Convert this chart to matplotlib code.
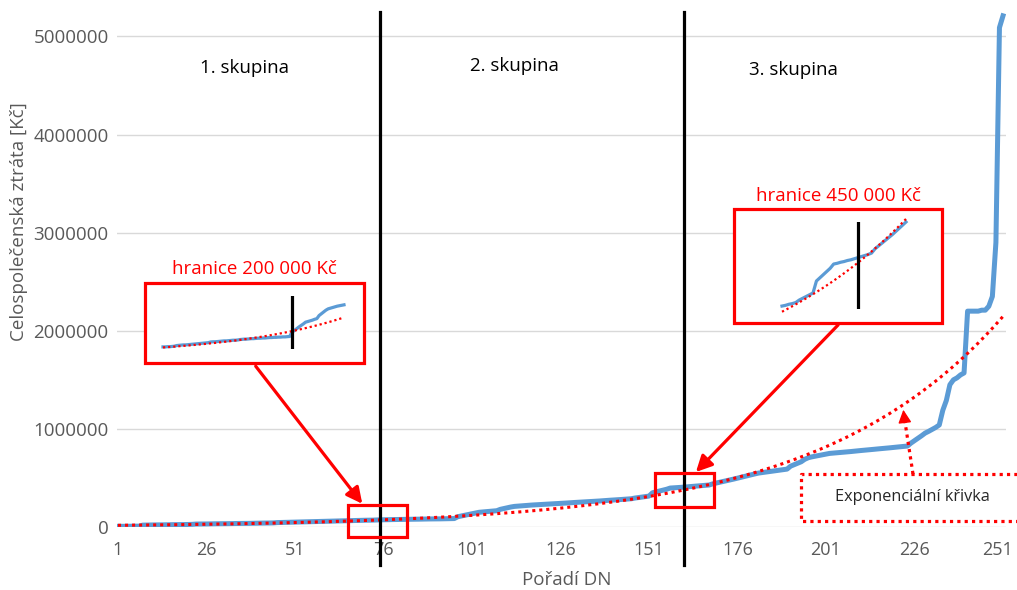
import numpy as np
import matplotlib
matplotlib.use("Agg")
import matplotlib.pyplot as plt
from matplotlib.patches import Rectangle, FancyArrowPatch
from matplotlib.lines import Line2D
from matplotlib.transforms import blended_transform_factory, ScaledTranslation

# ---------------- data ----------------
# loss per DN (sorted), in thousands of Kč, DN order 1..251
loss_thousands = (
    [7, 7, 8, 8, 8, 9, 9]
    + [19, 20, 20, 21, 21, 22, 22, 23, 23, 24, 24, 25, 25, 26, 27]
    + [30, 30, 31, 31, 32, 32, 33, 33, 34, 34, 35, 35, 36, 36, 37, 37, 38, 39, 39, 40, 40, 41, 42]
    + [45, 46, 47, 48, 48, 49, 50, 51, 52, 53, 54, 55, 56, 57, 58]
    + [61, 62, 62, 63, 64, 65, 66, 66, 67, 68, 69, 69, 70]
    + [72, 73, 74, 74, 75, 76, 76, 77, 78, 78, 79, 79, 80, 81, 81, 82, 82, 83, 83, 84, 84, 85, 86]
    + [105]
    + [112, 120, 128, 135, 142]
    + [150, 153, 156, 159, 163, 166]
    + [180, 188, 196, 204]
    + [210, 213, 216, 219, 222, 224]
    + [226, 228, 230, 232, 234, 236, 238, 240, 243, 245, 248]
    + [250, 252, 254, 256, 258, 260, 263, 265]
    + [268, 270, 273, 275, 278, 280, 283, 285, 288]
    + [295, 300, 305, 310, 315]
    + [349, 358, 367, 376, 385]
    + [397, 399, 402, 404, 407, 409, 412, 415, 418, 421, 424, 428]
    + [440, 448, 456, 464, 472]
    + [480, 489, 498, 507, 516, 525, 534, 542, 550]
    + [555, 560, 565, 570, 575, 580, 585, 590]
    + [620, 635, 650, 665, 690, 706]
    + [715, 722, 729, 736, 743]
    + [750, 753, 756, 760, 763, 766, 769, 773, 776, 780, 783, 787, 790, 794]
    + [797, 800, 804, 807, 811, 814, 818, 821, 825]
    + [855, 880, 905, 930]
    + [957, 975, 995, 1015, 1040]
    + [1190, 1290, 1450]
    + [1500, 1520, 1550, 1570]
    + [2200, 2200, 2200, 2200, 2210, 2210]
    + [2250, 2350, 2900, 5090, 5210]
)
assert len(loss_thousands) == 251

x_ticks = [1, 26, 51, 76, 101, 126, 151, 176, 201, 226, 251]
y_ticks = [0, 1000000, 2000000, 3000000, 4000000, 5000000]
group_labels = ["1. skupina", "2. skupina", "3. skupina"]
group_bounds = [75, 161]
limit_labels = ["hranice 200 000 Kč", "hranice 450 000 Kč"]
trend_label = "Exponenciální křivka"
x_label = "Pořadí DN"
y_label = "Celospolečenská ztráta [Kč]"
# exponential trendline  y = a * exp(b * n)  (coefficients)
trend_a = 16900
trend_b = 0.0193
inset1_range = (40, 120)
inset1_mark = 97
inset2_range = (142, 178)
inset2_mark = 164

# ---------------- figure ----------------
W, H = 1017, 590
plt.rcParams['font.family'] = ['Open Sans', 'DejaVu Sans']
fig = plt.figure(figsize=(W / 100, H / 100), dpi=100)

def fx(p):
    return p / W

def fy(p):
    return 1 - p / H

BLUE = '#5B9BD5'
RED = '#FF0000'
GREY = '#595959'
DOT = (0, (1, 1.3))

n = np.arange(1, len(loss_thousands) + 1)
loss = np.array(loss_thousands, dtype=float) * 1000
trend = trend_a * np.exp(trend_b * n)

ax = fig.add_axes([fx(117), fy(527), fx(1006) - fx(117), fy(7) - fy(527)])
ax.plot(n, loss, color=BLUE, lw=3.6, solid_joinstyle='round', zorder=3)
ax.plot(n, trend, color=RED, lw=2.2, linestyle=DOT, zorder=4)
ax.set_xlim(0.7175, 251.85)
ax.set_ylim(0, 5.3e6)
ax.set_xticks(x_ticks)
ax.set_xticklabels([str(t) for t in x_ticks])
ax.set_yticks(y_ticks)
ax.set_yticklabels([str(t) for t in y_ticks])
ax.tick_params(axis='both', length=0, labelsize=13.5, labelcolor=GREY)
ax.tick_params(axis='x', pad=10, labelsize=13)
ax.tick_params(axis='y', pad=6)
last = ax.get_xticklabels()[-1]
last.set_transform(last.get_transform() + ScaledTranslation(-5 / 100, 0, fig.dpi_scale_trans))
for s in ax.spines.values():
    s.set_visible(False)
ax.grid(axis='y', color='#D9D9D9', lw=1.0)
ax.set_axisbelow(True)

fig.text(fx(567), fy(580), x_label, ha='center', va='center', fontsize=13.5, color=GREY)
fig.text(fx(19), fy(222), y_label, ha='center', va='center', rotation=90, fontsize=13.5, color=GREY)

# group dividers
bt = blended_transform_factory(ax.transData, fig.transFigure)
for b in group_bounds:
    fig.add_artist(Line2D([b, b], [fy(12), fy(565)], transform=bt, color='black', lw=2.3, zorder=6))

for lab, (px, py) in zip(group_labels, [(245, 68), (514, 66), (793, 70)]):
    fig.text(fx(px), fy(py), lab, ha='center', va='center', fontsize=13.5, color='black')

# small red boxes on main curve
for (x0, y0, x1, y1) in [(348, 505, 407, 537), (655, 473, 714, 507)]:
    fig.add_artist(Rectangle((fx(x0), fy(y1)), fx(x1) - fx(x0), fy(y0) - fy(y1),
                             transform=fig.transFigure, fill=False, ec=RED, lw=2.3, zorder=7))

# big inset frames
for (x0, y0, x1, y1) in [(145, 283, 364, 363), (734, 209, 942, 323)]:
    fig.add_artist(Rectangle((fx(x0), fy(y1)), fx(x1) - fx(x0), fy(y0) - fy(y1),
                             transform=fig.transFigure, fill=True, fc='white', ec=RED, lw=2.3, zorder=5))

fig.text(fx(254), fy(269), limit_labels[0], ha='center', va='center', fontsize=13.5, color=RED)
fig.text(fx(838), fy(196), limit_labels[1], ha='center', va='center', fontsize=13.5, color=RED)

def inset(box, rng, mark, margins):
    x0, y0, x1, y1 = box
    a = fig.add_axes([fx(x0), fy(y1), fx(x1) - fx(x0), fy(y0) - fy(y1)], zorder=8)
    a.patch.set_alpha(0)
    sel = (n >= rng[0]) & (n <= rng[1])
    a.plot(n[sel], loss[sel], color=BLUE, lw=2.3, clip_on=False)
    a.plot(n[sel], trend[sel], color=RED, lw=1.6, linestyle=DOT, clip_on=False)
    lo, hi = loss[sel].min(), loss[sel].max()
    span = hi - lo
    a.set_ylim(lo - margins[0] * span, hi + margins[1] * span)
    a.set_xlim(rng[0], rng[1])
    a.axvline(mark, color='black', lw=2.3)
    a.axis('off')
    return a

inset((163, 296, 344, 349), inset1_range, inset1_mark, (0.05, 0.21))
inset((782, 222, 906, 309), inset2_range, inset2_mark, (0.035, 0.0))

# arrows
for (s, e) in [((254, 364), (364, 506)), ((840, 323), (694, 474))]:
    fig.add_artist(FancyArrowPatch((fx(s[0]), fy(s[1])), (fx(e[0]), fy(e[1])),
                                   transform=fig.transFigure, arrowstyle='-|>',
                                   mutation_scale=24, color=RED, lw=2.3, zorder=9))

# exponential label box (dotted, open to the right)
fig.add_artist(Line2D([fx(1017), fx(801), fx(801), fx(1017)], [fy(474), fy(474), fy(521), fy(521)],
                      transform=fig.transFigure, color=RED, lw=2.3, linestyle=DOT, zorder=7))
fig.text(fx(912), fy(497), trend_label, ha='center', va='center', fontsize=11.7, color='#262626')
fig.add_artist(Line2D([fx(913), fx(905)], [fy(474), fy(422)], transform=fig.transFigure,
                      color=RED, lw=2.3, linestyle=DOT, zorder=7))
fig.add_artist(FancyArrowPatch((fx(905), fy(424)), (fx(903), fy(407)), transform=fig.transFigure,
                               arrowstyle='-|>', mutation_scale=20, color=RED, lw=1, zorder=7))

fig.savefig('out.png', dpi=100)
